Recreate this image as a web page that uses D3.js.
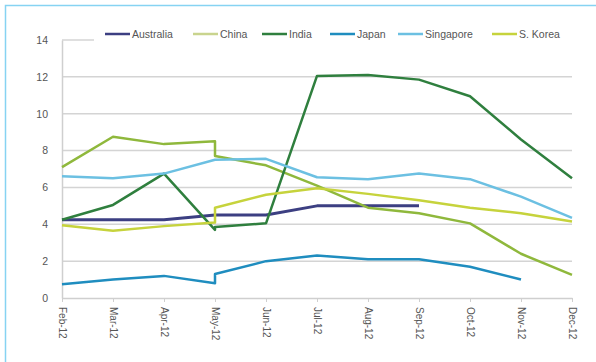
<!DOCTYPE html>
<html>
<head>
<meta charset="utf-8">
<script src="https://cdn.jsdelivr.net/npm/d3@7"></script>
<style>
  html, body { margin: 0; padding: 0; background: #fff; }
  svg { display: block; font-family: "Liberation Sans Narrow", "Liberation Sans", Arial, sans-serif; }
</style>
</head>
<body>
<svg id="chart" width="596" height="362"></svg>
<script>
// Month categories shown on the x axis
const months = ["Feb-12", "Mar-12", "Apr-12", "May-12", "Jun-12", "Jul-12",
                "Aug-12", "Sep-12", "Oct-12", "Nov-12", "Dec-12"];
// Each observation's month (May-12 carries two readings: before and after revision)
const pointMonths = ["Feb-12", "Mar-12", "Apr-12", "May-12", "May-12", "Jun-12",
                     "Jul-12", "Aug-12", "Sep-12", "Oct-12", "Nov-12", "Dec-12"];
const yTicks = [0, 2, 4, 6, 8, 10, 12, 14];

const australia = [4.25, 4.25, 4.25, 4.5, 4.5, 4.5, 5.0, 5.0, 5.0, null, null, null];
const china     = [7.1, 8.75, 8.35, 8.5, 7.7, 7.2, 6.1, 4.9, 4.6, 4.05, 2.4, 1.25];
const india     = [4.25, 5.05, 6.75, 3.7, 3.85, 4.05, 12.05, 12.1, 11.85, 10.95, 8.6, 6.5];
const japan     = [0.75, 1.0, 1.2, 0.8, 1.3, 2.0, 2.3, 2.1, 2.1, 1.7, 1.0, null];
const singapore = [6.6, 6.5, 6.75, 7.5, 7.5, 7.55, 6.55, 6.45, 6.75, 6.45, 5.5, 4.35];
const skorea    = [3.95, 3.65, 3.9, 4.1, 4.9, 5.6, 5.95, 5.65, 5.3, 4.9, 4.6, 4.15];

const seriesNames  = ["Australia", "China", "India", "Japan", "Singapore", "S. Korea"];
const seriesValues = [australia, china, india, japan, singapore, skorea];
const seriesColors = ["#3c3f82", "#8fb83c", "#2f7f3e", "#1f8dbf", "#6cc0e2", "#c6d33c"];
const legendColors = ["#3c3f82", "#c9d48e", "#2f7f3e", "#1f8dbf", "#6cc0e2", "#c6d33c"];
const seriesWidths = [3, 2.5, 2.5, 2.5, 2.5, 2.5];

const svg = d3.select("#chart");
const margin = { left: 62, right: 24, top: 40, bottom: 64 };
const W = 596, H = 362;

// Outer frame
svg.append("rect")
  .attr("x", 5.5).attr("y", 5.5)
  .attr("width", W + 10).attr("height", H + 10)
  .attr("fill", "none").attr("stroke", "#86d3f2").attr("stroke-width", 1.5);

const x = d3.scalePoint().domain(months)
  .range([margin.left, W - margin.right]).padding(0);
const y = d3.scaleLinear().domain([0, 14])
  .range([H - margin.bottom, margin.top]);

// Horizontal gridlines
svg.append("g").selectAll("line").data(yTicks.filter(d => d > 0)).join("line")
  .attr("x1", margin.left).attr("x2", W - margin.right)
  .attr("y1", d => y(d)).attr("y2", d => y(d))
  .attr("stroke", "#d4d4d4").attr("stroke-width", 1.5);

// Y axis
const yAxis = svg.append("g")
  .attr("transform", `translate(${margin.left},0)`)
  .call(d3.axisLeft(y).tickValues(yTicks).tickSize(0).tickPadding(14));
yAxis.select(".domain").attr("stroke", "#cfcfcf").attr("stroke-width", 1.5);
yAxis.selectAll("text").attr("fill", "#555").style("font-size", "10.5px")
  .style("font-family", "'Liberation Sans', Arial, sans-serif");

// X axis with rotated month labels
const xAxis = svg.append("g")
  .attr("transform", `translate(0,${y(0)})`)
  .call(d3.axisBottom(x).tickSize(4).tickSizeOuter(0));
xAxis.select(".domain").attr("stroke", "#cfcfcf").attr("stroke-width", 1.5);
xAxis.selectAll(".tick line").attr("stroke", "#cfcfcf");
xAxis.selectAll("text")
  .attr("fill", "#555").style("font-size", "10px")
  .attr("transform", "rotate(90)")
  .attr("x", 9).attr("y", 0).attr("dy", "0.35em")
  .style("text-anchor", "start");

// Series lines
const line = d3.line()
  .defined(d => d.v !== null)
  .x(d => x(d.m))
  .y(d => y(d.v));

seriesValues.forEach((vals, i) => {
  const pts = vals.map((v, j) => ({ m: pointMonths[j], v }));
  svg.append("path")
    .datum(pts)
    .attr("d", line)
    .attr("fill", "none")
    .attr("stroke", seriesColors[i])
    .attr("stroke-width", seriesWidths[i])
    .attr("stroke-linejoin", "round");
});

// Legend
const legend = svg.append("g");
legend.append("rect")
  .attr("x", 94).attr("y", 26).attr("width", 478).attr("height", 18)
  .attr("fill", "#fff");
const legendX = [105, 193, 262, 330, 398, 492];
seriesNames.forEach((name, i) => {
  const g = legend.append("g").attr("transform", `translate(${legendX[i]},34)`);
  g.append("line").attr("x1", 0).attr("x2", 25).attr("y1", 0).attr("y2", 0)
    .attr("stroke", legendColors[i]).attr("stroke-width", 2.5);
  g.append("text").attr("x", 27).attr("y", 0).attr("dy", "0.35em")
    .attr("fill", "#555").style("font-size", "10.5px").text(name);
});
</script>
</body>
</html>
